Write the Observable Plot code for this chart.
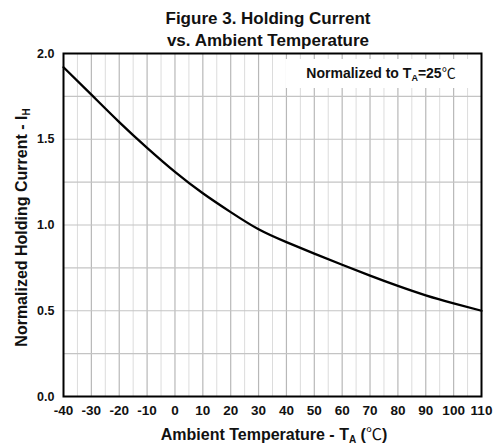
<!DOCTYPE html>
<html>
<head>
<meta charset="utf-8">
<script src="https://cdn.jsdelivr.net/npm/d3@7"></script>
<script src="https://cdn.jsdelivr.net/npm/@observablehq/plot@0.6"></script>
<style>
  html, body { margin: 0; padding: 0; background: #fff; }
  svg { font-family: "Liberation Sans", Arial, sans-serif; }
</style>
</head>
<body>
<div id="chart"></div>
<script>
// Data
const temps   = [-40, -30, -20, -10, 0, 10, 20, 30, 40, 50, 60, 70, 80, 90, 100, 110];
const current = [1.92, 1.76, 1.60, 1.45, 1.31, 1.185, 1.075, 0.975, 0.90, 0.833, 0.768, 0.705, 0.645, 0.59, 0.543, 0.50];
const xTicks = [-40, -30, -20, -10, 0, 10, 20, 30, 40, 50, 60, 70, 80, 90, 100, 110];
const xMinor = [-35, -25, -15, -5, 5, 15, 25, 35, 45, 55, 65, 75, 85, 95, 105];
const yTicks = [0, 0.5, 1.0, 1.5, 2.0];
const yGrid  = [0.25, 0.5, 0.75, 1.0, 1.25, 1.5, 1.75];
const titleLines = ["Figure 3. Holding Current", "vs. Ambient Temperature"];

const data = temps.map((t, i) => ({t, v: current[i]}));

const chart = Plot.plot({
  width: 493,
  height: 448,
  marginLeft: 63,
  marginRight: 12,
  marginTop: 53,
  marginBottom: 52,
  style: {fontFamily: '"Liberation Sans", Arial, sans-serif', background: "#fff"},
  x: {domain: [-40, 110]},
  y: {domain: [0, 2]},
  marks: [
    Plot.ruleX(xMinor, {stroke: "#dcdcdc", strokeWidth: 1}),
    Plot.ruleX(xTicks.slice(1, -1), {stroke: "#b8b8b8", strokeWidth: 1.2}),
    Plot.ruleY(yGrid, {stroke: "#c4c4c4", strokeWidth: 1.2}),
    Plot.line(data, {x: "t", y: "v", stroke: "#000", strokeWidth: 2.3, curve: "natural"}),
    Plot.frame({stroke: "#000", strokeWidth: 2}),
    Plot.axisX({ticks: xTicks, tickSize: 0, tickPadding: 9, label: null,
      tickFormat: d => String(d), fontSize: 13.5, fontWeight: "bold", fill: "#111"}),
    Plot.axisY({ticks: yTicks, tickSize: 0, tickPadding: 9, label: null,
      tickFormat: d => d.toFixed(1), fontSize: 12.5, fontWeight: "bold", fill: "#111"})
  ]
});

document.getElementById("chart").appendChild(chart);

const svg = d3.select(chart);
const xs = chart.scale("x"), ys = chart.scale("y");
const font = '"Liberation Sans", Arial, sans-serif';

// Title
const cx = (xs.range[0] + xs.range[1]) / 2 - 4;
titleLines.forEach((line, i) => {
  svg.append("text")
    .attr("x", cx).attr("y", 24 + i * 22)
    .attr("text-anchor", "middle")
    .attr("font-family", font).attr("font-weight", "bold").attr("font-size", 17)
    .attr("fill", "#111")
    .text(line);
});

// X axis label
const xl = svg.append("text")
  .attr("x", cx + 6).attr("y", 440)
  .attr("text-anchor", "middle")
  .attr("font-family", font).attr("font-weight", "bold").attr("font-size", 16)
  .attr("fill", "#111");
xl.append("tspan").text("Ambient Temperature - T");
xl.append("tspan").attr("font-size", 10).attr("dy", 3).text("A");
xl.append("tspan").attr("dy", -3).text(" (");
xl.append("tspan").attr("font-weight", "normal").attr("font-family", '"Noto Sans CJK SC", sans-serif').text("℃");
xl.append("tspan").text(")");

// Y axis label
const ycen = (ys.range[0] + ys.range[1]) / 2 + 3;
const yl = svg.append("text")
  .attr("transform", `translate(27,${ycen}) rotate(-90)`)
  .attr("text-anchor", "middle")
  .attr("font-family", font).attr("font-weight", "bold").attr("font-size", 16)
  .attr("fill", "#111");
yl.append("tspan").text("Normalized Holding Current - I");
yl.append("tspan").attr("font-size", 10).attr("dy", 3).text("H");

// Annotation box (sized from its text)
const g = svg.append("g");
const rect = g.append("rect").attr("fill", "#fff");
const at = g.append("text")
  .attr("x", xs.range[1] - 100).attr("y", 78)
  .attr("text-anchor", "middle")
  .attr("font-family", font).attr("font-weight", "bold").attr("font-size", 14)
  .attr("fill", "#111");
at.append("tspan").text("Normalized to T");
at.append("tspan").attr("font-size", 9).attr("dy", 3).text("A");
at.append("tspan").attr("dy", -3).text("=25");
at.append("tspan").attr("font-weight", "normal").attr("font-family", '"Noto Sans CJK SC", sans-serif').text("℃");
const bb = at.node().getBBox();
rect.attr("x", bb.x - 21).attr("y", ys.range[1] + 6)
    .attr("width", bb.width + 40).attr("height", 29);
</script>
</body>
</html>
